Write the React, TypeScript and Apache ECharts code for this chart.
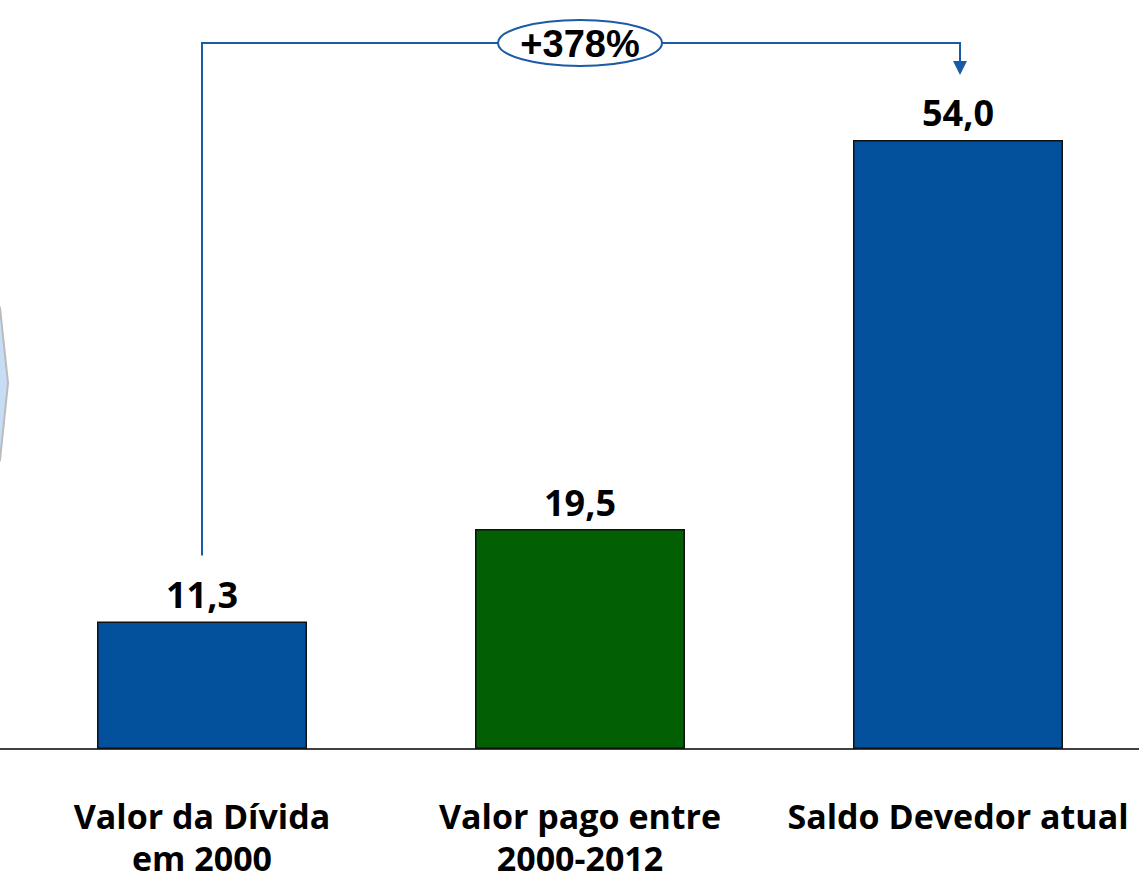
import React, { useEffect, useRef } from "react";
import * as echarts from "echarts";

const categories = ["Valor da Dívida\nem 2000", "Valor pago entre\n2000-2012", "Saldo Devedor atual"];
const values = [11.3, 19.5, 54.0];
const barColors = ["#03509C", "#035F03", "#03509C"];
const growthLabel = "+378%";

const FONT = "'Open Sans', 'Noto Sans', sans-serif";
const BLUE = "#1B5BA5";

export default function App() {
  const ref = useRef<HTMLDivElement>(null);
  useEffect(() => {
    const chart = echarts.init(ref.current!, null, { renderer: "svg" });
    chart.setOption({
      animation: false,
      backgroundColor: "#ffffff",
      grid: { left: 13, width: 1134, top: 72.3, height: 676.7, containLabel: false, outerBoundsMode: "none" },
      xAxis: {
        type: "category",
        data: categories,
        axisLine: { show: false },
        axisTick: { show: false },
        axisLabel: {
          interval: 0,
          margin: 46,
          color: "#000",
          fontFamily: FONT,
          fontWeight: "bold",
          fontSize: 34,
          lineHeight: 42,
        },
      },
      yAxis: {
        type: "value",
        min: 0,
        max: 60,
        show: false,
        splitLine: { show: false },
      },
      series: [
        {
          type: "bar",
          barWidth: 210,
          data: values.map((v, i) => ({
            value: v,
            itemStyle: { color: barColors[i], borderColor: "#111", borderWidth: 1.5 },
          })),
          label: {
            show: true,
            position: "top",
            distance: 9,
            color: "#000",
            fontFamily: FONT,
            fontWeight: "bold",
            fontSize: 36,
            formatter: (p: any) => p.value.toFixed(1).replace(".", ","),
          },
        },
      ],
    });

    const p1 = chart.convertToPixel({ xAxisIndex: 0, yAxisIndex: 0 }, [0, values[0]]) as number[];
    const p3 = chart.convertToPixel({ xAxisIndex: 0, yAxisIndex: 0 }, [2, values[2]]) as number[];
    const base = chart.convertToPixel({ xAxisIndex: 0, yAxisIndex: 0 }, [0, 0]) as number[];
    const topY = 43;
    const x1 = p1[0];
    const x3 = p3[0] + 2;
    const startY = p1[1] - 66;
    const tipY = p3[1] - 65;
    const midX = (x1 + x3) / 2 - 1;

    chart.setOption({
      graphic: [
        {
          type: "line",
          shape: { x1: 0, y1: base[1], x2: 1139, y2: base[1] },
          style: { stroke: "#000", lineWidth: 1.5 },
        },
        {
          type: "polyline",
          shape: { points: [[x1, startY], [x1, topY], [x3, topY], [x3, tipY - 13]] },
          style: { stroke: BLUE, lineWidth: 2, fill: null },
        },
        {
          type: "polygon",
          shape: { points: [[x3 - 7, tipY - 14], [x3 + 7, tipY - 14], [x3, tipY]] },
          style: { fill: BLUE },
        },
        {
          type: "ellipse",
          shape: { cx: midX, cy: topY, rx: 82, ry: 23 },
          style: { fill: "#fff", stroke: BLUE, lineWidth: 2 },
        },
        {
          type: "text",
          x: midX,
          y: topY + 1,
          style: {
            text: growthLabel,
            fill: "#000",
            fontFamily: "'Liberation Sans', Arial, sans-serif",
            fontWeight: "bold",
            fontSize: 38,
            align: "center",
            verticalAlign: "middle",
          },
        },
        {
          type: "polygon",
          shape: { points: [[-4, 300], [0, 308], [8, 383], [0, 460], [-4, 468]] },
          style: { fill: "#C7DDF6", stroke: "#BBBBBB", lineWidth: 2 },
        },
      ],
    });

    return () => chart.dispose();
  }, []);
  return (
    <div
      ref={ref}
      style={{ position: "fixed", left: 0, top: 0, width: 1139, height: 883, background: "#fff" }}
    />
  );
}
